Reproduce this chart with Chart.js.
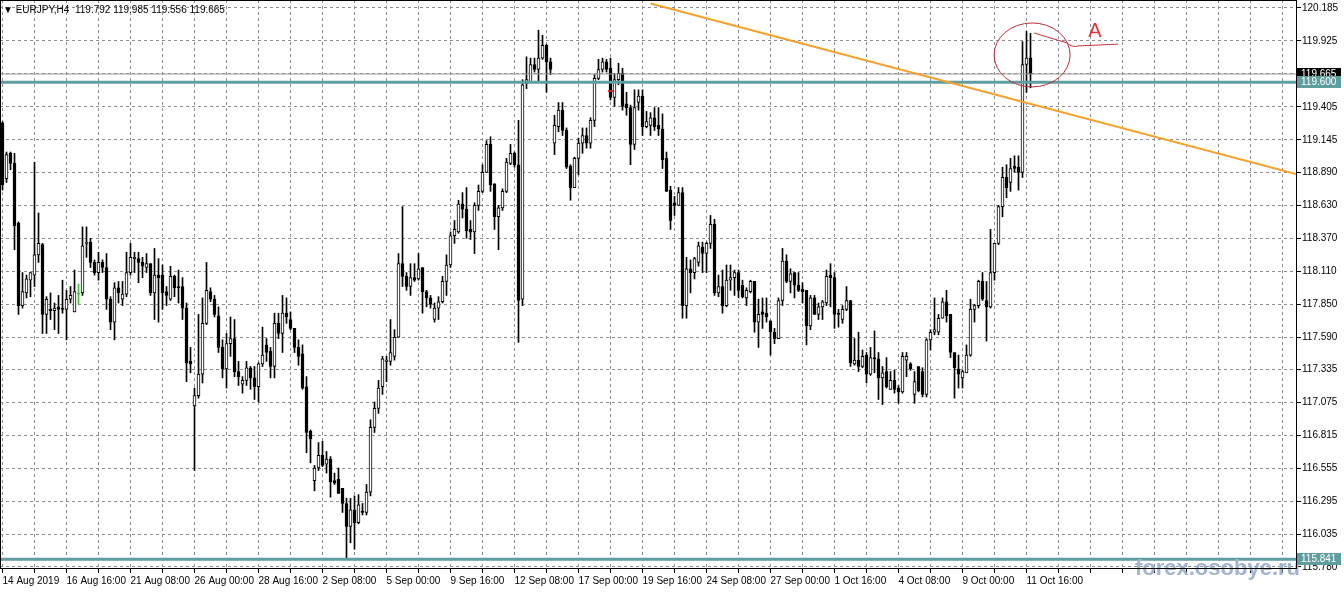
<!DOCTYPE html>
<html>
<head>
<meta charset="utf-8">
<title>EURJPY,H4</title>
<script src="https://cdn.jsdelivr.net/npm/chart.js@4.4.1/dist/chart.umd.min.js"></script>
<style>
  html, body { margin: 0; padding: 0; background: #fff; }
  #chart { display: block; }
</style>
</head>
<body>
<canvas id="chart" width="1344" height="593"></canvas>
<script>
var symbolName = 'EURJPY,H4';

// time axis: one label every 16 H4 bars, grid every 8 bars
var dateLabels = ['14 Aug 2019', '16 Aug 16:00', '21 Aug 08:00', '26 Aug 00:00', '28 Aug 16:00',
    '2 Sep 08:00', '5 Sep 00:00', '9 Sep 16:00', '12 Sep 08:00', '17 Sep 00:00', '19 Sep 16:00',
    '24 Sep 08:00', '27 Sep 00:00', '1 Oct 16:00', '4 Oct 08:00', '9 Oct 00:00', '11 Oct 16:00'];
var labelEvery = 16;
var gridEvery = 8;
var slotCount = 324; // bars plus empty space on the right

var openPrices = [
    119.28,118.84,119.04,118.96,118.49,117.84,117.94,118.04,118.08,118.24,
    118.32,117.77,117.81,117.80,117.83,117.82,117.81,117.89,117.79,117.93,
    117.94,118.33,118.34,118.18,118.10,118.18,118.14,117.89,117.71,117.98,
    117.89,117.93,118.10,118.21,118.21,118.18,118.14,118.17,117.94,118.08,
    118.08,117.95,117.89,118.07,117.99,117.99,117.82,117.40,117.05,117.13,
    117.30,117.70,117.95,117.89,117.76,117.51,117.34,117.54,117.58,117.32,
    117.22,117.25,117.35,117.27,117.20,117.38,117.53,117.48,117.36,117.70,
    117.62,117.78,117.73,117.66,117.51,117.46,117.20,116.85,116.46,116.56,
    116.66,116.59,116.63,116.46,116.47,116.40,116.28,116.10,116.23,116.13,
    116.22,116.21,116.37,116.88,117.03,117.20,117.40,117.40,117.44,117.59,
    118.17,118.07,117.99,118.06,118.05,118.14,117.95,117.90,117.73,117.82,
    117.87,118.03,118.16,118.39,118.42,118.64,118.60,118.44,118.42,118.63,
    118.74,118.89,119.11,118.80,118.54,118.61,118.74,118.96,119.04,118.95,
    117.89,119.59,119.60,119.74,119.70,119.79,119.89,119.76,119.12,119.25,
    119.38,119.22,118.94,118.77,119.00,119.12,119.18,119.12,119.30,119.63,
    119.70,119.76,119.71,119.48,119.62,119.67,119.43,119.40,119.11,119.44,
    119.49,119.25,119.26,119.32,119.26,119.23,119.00,118.75,118.65,118.63,
    118.73,117.84,118.13,118.10,118.18,118.30,118.25,118.33,118.48,117.94,
    117.99,117.84,118.04,118.06,118.10,118.00,117.90,117.95,118.03,117.71,
    117.79,117.78,117.72,117.63,117.58,117.88,118.19,118.03,118.10,118.00,
    117.97,117.96,117.68,117.90,117.77,117.83,117.86,118.08,118.06,117.78,
    117.73,117.81,117.88,117.38,117.41,117.36,117.45,117.30,117.43,117.42,
    117.27,117.32,117.18,117.25,117.19,117.16,117.41,117.38,117.14,117.36,
    117.32,117.14,117.57,117.63,117.63,117.74,117.87,117.77,117.47,117.34,
    117.27,117.31,117.45,117.81,117.84,118.03,117.88,117.83,118.10,118.33,
    118.62,118.85,118.81,118.94,118.93,118.89,119.74,119.792
];
var highPrices = [
    119.29,119.05,119.05,119.04,118.50,118.10,118.08,118.10,118.97,118.57,
    118.33,117.91,117.94,117.86,117.92,118.04,117.96,117.99,118.12,118.01,
    118.46,118.46,118.37,118.20,118.26,118.20,118.25,117.91,118.02,118.03,
    118.03,118.26,118.33,118.26,118.26,118.22,118.25,118.17,118.29,118.21,
    118.16,117.99,118.15,118.08,118.12,118.06,117.86,117.51,117.19,117.77,
    117.90,118.18,117.98,117.92,117.83,117.57,117.62,117.75,117.73,117.40,
    117.28,117.40,117.36,117.36,117.39,117.67,117.58,117.51,117.78,117.78,
    117.92,117.90,117.79,117.66,117.57,117.53,117.28,116.86,116.58,116.76,
    116.77,116.69,116.65,116.52,116.56,116.40,116.32,116.32,116.34,116.35,
    116.28,116.43,116.94,117.08,117.25,117.44,117.44,117.73,117.65,118.25,
    118.62,118.10,118.17,118.17,118.25,118.14,117.96,117.92,117.86,117.91,
    118.07,118.24,118.42,118.51,118.67,118.73,118.77,118.51,118.65,118.79,
    118.95,119.14,119.17,118.80,118.63,118.76,119.00,119.11,119.05,119.30,
    119.62,119.80,119.79,119.79,120.01,119.97,119.90,119.79,119.34,119.44,
    119.44,119.24,118.95,119.01,119.16,119.24,119.24,119.32,119.66,119.78,
    119.79,119.78,119.79,119.67,119.75,119.71,119.52,119.42,119.54,119.54,
    119.54,119.37,119.36,119.40,119.40,119.35,119.05,118.78,118.70,118.77,
    118.77,118.22,118.20,118.22,118.34,118.34,118.34,118.55,118.52,118.08,
    118.12,118.16,118.16,118.12,118.12,118.04,117.98,118.04,118.03,117.89,
    117.90,117.90,117.72,117.66,117.90,118.29,118.24,118.13,118.10,118.10,
    118.02,117.96,117.92,117.92,117.86,117.88,118.12,118.17,118.10,117.81,
    117.84,117.99,117.88,117.58,117.63,117.49,117.47,117.51,117.64,117.47,
    117.36,117.43,117.32,117.33,117.21,117.47,117.47,117.39,117.32,117.36,
    117.35,117.58,117.65,117.90,117.77,117.90,117.96,117.77,117.47,117.45,
    117.33,117.53,117.89,117.85,118.04,118.10,118.03,118.44,118.33,118.63,
    118.93,118.95,119.00,119.02,119.02,119.92,120.00,119.985
];
var lowPrices = [
    118.75,118.81,118.91,118.28,117.77,117.82,117.90,117.91,117.99,118.18,
    117.62,117.62,117.73,117.65,117.62,117.78,117.57,117.86,117.79,117.85,
    117.92,118.22,118.14,118.08,118.04,118.10,117.81,117.65,117.57,117.86,
    117.84,117.91,118.08,118.10,118.02,118.06,118.10,117.92,117.73,117.71,
    117.81,117.84,117.88,117.91,117.86,117.73,117.24,117.31,116.54,117.11,
    117.23,117.69,117.87,117.75,117.47,117.27,117.19,117.44,117.28,117.21,
    117.15,117.21,117.18,117.10,117.08,117.36,117.40,117.27,117.27,117.58,
    117.47,117.70,117.65,117.47,117.37,117.18,116.68,116.60,116.38,116.54,
    116.57,116.52,116.33,116.43,116.36,116.21,115.85,115.97,115.92,116.12,
    116.19,116.19,116.34,116.84,116.99,117.14,117.24,117.37,117.41,117.59,
    117.99,117.96,117.92,118.03,118.04,117.78,117.83,117.82,117.71,117.73,
    117.86,117.92,118.14,118.33,118.41,118.53,118.37,118.36,118.25,118.59,
    118.73,118.89,118.74,118.44,118.28,118.59,118.73,118.95,118.93,117.55,
    117.84,119.55,119.60,119.68,119.60,119.78,119.52,119.66,119.03,119.21,
    119.18,118.92,118.67,118.77,118.87,119.04,119.08,119.08,119.25,119.62,
    119.68,119.68,119.46,119.41,119.58,119.38,119.34,118.95,119.07,119.38,
    119.18,119.24,119.18,119.22,119.18,118.92,118.74,118.44,118.55,118.63,
    117.74,117.74,117.94,118.05,118.15,118.10,118.10,118.29,117.92,117.91,
    117.78,117.83,117.96,117.92,117.90,117.90,117.84,117.94,117.63,117.51,
    117.66,117.71,117.45,117.54,117.58,117.84,118.02,117.94,117.90,117.95,
    117.86,117.53,117.65,117.77,117.73,117.73,117.84,117.83,117.66,117.67,
    117.70,117.80,117.36,117.37,117.32,117.35,117.23,117.29,117.31,117.10,
    117.06,117.19,117.18,117.15,117.07,117.15,117.28,117.33,117.07,117.16,
    117.12,117.12,117.49,117.61,117.61,117.74,117.71,117.43,117.11,117.19,
    117.19,117.31,117.44,117.71,117.82,117.88,117.56,117.82,118.04,118.32,
    118.54,118.69,118.74,118.89,118.75,118.85,119.52,119.556
];
var closePrices = [
    118.79,119.03,118.96,118.47,117.84,117.95,118.05,118.10,118.24,118.33,
    117.77,117.89,117.80,117.82,117.81,117.81,117.89,117.92,117.95,117.93,
    118.31,118.34,118.18,118.10,118.18,118.14,117.89,117.71,117.98,117.94,
    117.93,118.10,118.22,118.22,118.18,118.15,118.17,117.94,118.08,118.06,
    117.94,117.92,118.07,117.98,117.98,117.82,117.39,117.38,117.13,117.30,
    117.70,117.96,117.89,117.77,117.51,117.34,117.54,117.58,117.32,117.28,
    117.25,117.35,117.27,117.20,117.38,117.45,117.47,117.36,117.70,117.62,
    117.78,117.75,117.66,117.51,117.44,117.19,116.84,116.79,116.56,116.66,
    116.58,116.63,116.45,116.44,116.36,116.28,116.10,116.23,116.13,116.27,
    116.21,116.37,116.88,117.03,117.19,117.42,117.41,117.47,117.59,118.17,
    118.07,117.99,118.06,118.04,118.13,117.95,117.90,117.85,117.82,117.87,
    118.03,118.16,118.39,118.44,118.64,118.60,118.43,118.42,118.63,118.74,
    118.89,119.11,118.79,118.54,118.61,118.74,118.97,119.04,118.95,117.88,
    119.58,119.62,119.74,119.70,119.79,119.89,119.76,119.70,119.26,119.38,
    119.22,118.93,118.77,119.00,119.12,119.18,119.12,119.30,119.63,119.70,
    119.76,119.70,119.48,119.62,119.67,119.41,119.40,119.11,119.40,119.49,
    119.25,119.29,119.32,119.25,119.23,118.99,118.74,118.51,118.63,118.73,
    117.84,118.13,118.10,118.21,118.31,118.25,118.33,118.48,117.94,117.99,
    117.84,118.04,118.06,118.10,117.96,117.91,117.96,118.03,117.71,117.77,
    117.77,117.75,117.63,117.58,117.88,118.19,118.03,118.09,118.00,117.96,
    117.95,117.68,117.90,117.77,117.83,117.87,118.07,118.06,117.77,117.77,
    117.81,117.88,117.39,117.41,117.36,117.44,117.30,117.43,117.42,117.27,
    117.31,117.20,117.25,117.18,117.16,117.44,117.44,117.34,117.24,117.17,
    117.14,117.57,117.63,117.65,117.74,117.87,117.76,117.47,117.35,117.30,
    117.32,117.45,117.81,117.84,118.03,117.89,117.83,118.10,118.33,118.62,
    118.85,118.77,118.92,118.92,118.89,119.74,119.79,119.665
];

// price scale labels as the terminal prints them
var priceTicks = [120.185, 119.925, 119.665, 119.405, 119.145, 118.890, 118.630, 118.370,
    118.110, 117.850, 117.590, 117.335, 117.075, 116.815, 116.555, 116.295, 116.035, 115.780];
var priceMin = 115.764;
var priceMax = 120.248;

// horizontal levels and the trend line
var upperLevel = 119.600;
var lowerLevel = 115.841;
var trendStart = {x: 162, y: 120.22};
var trendEnd = {x: 323.625, y: 118.875};

var dojiColor = '#3ec43e';
var levelColor = '#5f9ea0';
var fontFamily = '"Liberation Sans", Arial, sans-serif';
var xMin = -0.625;
var xMax = slotCount - 0.375;

var last = openPrices.length - 1;
var bidPrice = closePrices[last];

function isDoji(i) { return openPrices[i] === closePrices[i]; }

var wickData = openPrices.map(function(o, i) {
    return {x: i, y: [lowPrices[i], highPrices[i]]};
});
var bodyData = openPrices.map(function(o, i) {
    return {x: i, y: [Math.min(o, closePrices[i]), Math.max(o, closePrices[i])]};
});

function flatLine(value) {
    return [{x: xMin, y: value}, {x: xMax, y: value}];
}

var chartExtras = {
    id: 'chartExtras',
    beforeDraw: function(chart) {
        var c = chart.ctx;
        c.save();
        c.fillStyle = '#fff';
        c.fillRect(0, 0, chart.width, chart.height);
        c.restore();
    },
    afterDraw: function(chart) {
        var c = chart.ctx;
        var area = chart.chartArea;
        var xs = chart.scales.x;
        var ys = chart.scales.y;
        c.save();

        // watermark
        c.font = 'bold 22px ' + fontFamily;
        c.fillStyle = '#a3b4cf';
        c.textAlign = 'right';
        c.textBaseline = 'alphabetic';
        c.fillText('forex.osobye.ru', 1300, 575);

        // frame
        c.strokeStyle = '#000';
        c.lineWidth = 1;
        c.strokeRect(area.left + 0.5, area.top + 0.5, area.right - area.left - 1, area.bottom - area.top - 1);

        // symbol line top left
        c.font = '10px ' + fontFamily;
        c.fillStyle = '#000';
        c.textAlign = 'left';
        c.textBaseline = 'middle';
        var ohlc = [openPrices[last], highPrices[last], lowPrices[last], closePrices[last]].map(function(v) {
            return v.toFixed(3);
        });
        c.fillText('\u25BC ' + symbolName + '  ' + ohlc.join(' '), 3, 10);

        // hand drawn marks near the last bars
        c.strokeStyle = '#b8303c';
        c.lineWidth = 1;
        c.beginPath();
        c.ellipse(xs.getPixelForValue(257.4), ys.getPixelForValue(119.815), 38, 32, 0, 0, Math.PI * 2);
        c.stroke();
        c.strokeStyle = '#c8323c';
        c.beginPath();
        c.moveTo(xs.getPixelForValue(257.9), ys.getPixelForValue(119.988));
        c.lineTo(xs.getPixelForValue(266.1), ys.getPixelForValue(119.91));
        c.quadraticCurveTo(xs.getPixelForValue(267.5), ys.getPixelForValue(119.87),
            xs.getPixelForValue(268.9), ys.getPixelForValue(119.886));
        c.lineTo(xs.getPixelForValue(278.9), ys.getPixelForValue(119.90));
        c.stroke();
        c.font = '20px ' + fontFamily;
        c.fillStyle = '#e0363c';
        c.textAlign = 'center';
        c.textBaseline = 'alphabetic';
        c.fillText('A', xs.getPixelForValue(273.1), ys.getPixelForValue(119.956));
        c.strokeStyle = '#d42020';
        c.lineWidth = 2;
        c.beginPath();
        c.moveTo(xs.getPixelForValue(151.4), ys.getPixelForValue(119.53));
        c.lineTo(xs.getPixelForValue(152.9), ys.getPixelForValue(119.53));
        c.stroke();

        // price tags on the right scale
        function priceTag(value, bg) {
            var y = Math.round(ys.getPixelForValue(value));
            c.fillStyle = bg;
            c.fillRect(area.right, y - 6, 44, 12);
            c.fillStyle = '#fff';
            c.font = '10px ' + fontFamily;
            c.textAlign = 'left';
            c.textBaseline = 'middle';
            c.fillText(value.toFixed(3), area.right + 4, y);
        }
        priceTag(bidPrice, '#000');
        priceTag(upperLevel, levelColor);
        priceTag(lowerLevel, levelColor);
        c.restore();
    }
};

Chart.defaults.font.family = fontFamily;
Chart.defaults.font.size = 10;
Chart.defaults.color = '#000';

var ctx = document.getElementById('chart').getContext('2d');
var priceChart = new Chart(ctx, {
    type: 'bar',
    data: {
        datasets: [
            {
                label: 'wicks',
                data: wickData,
                order: 3,
                grouped: false,
                barThickness: 1,
                borderWidth: 0,
                minBarLength: 1,
                backgroundColor: function(c) { return isDoji(c.dataIndex) ? dojiColor : '#000'; }
            },
            {
                label: 'bodies',
                data: bodyData,
                order: 2,
                grouped: false,
                barThickness: 3,
                borderWidth: 1,
                borderSkipped: false,
                minBarLength: 1,
                borderColor: function(c) { return isDoji(c.dataIndex) ? dojiColor : '#000'; },
                backgroundColor: function(c) {
                    var i = c.dataIndex;
                    if (isDoji(i)) return dojiColor;
                    return closePrices[i] > openPrices[i] ? '#fff' : '#000';
                }
            },
            {
                type: 'line',
                label: 'bid',
                data: flatLine(bidPrice),
                order: 1,
                borderColor: '#9a9a9a',
                borderWidth: 1,
                pointRadius: 0
            },
            {
                type: 'line',
                label: 'level 119.600',
                data: flatLine(upperLevel),
                order: 1,
                borderColor: levelColor,
                borderWidth: 3,
                pointRadius: 0
            },
            {
                type: 'line',
                label: 'level 115.841',
                data: flatLine(lowerLevel),
                order: 1,
                borderColor: levelColor,
                borderWidth: 3,
                pointRadius: 0
            },
            {
                type: 'line',
                label: 'trend',
                data: [trendStart, trendEnd],
                order: 0,
                borderColor: '#f5a12c',
                borderWidth: 2,
                pointRadius: 0
            }
        ]
    },
    options: {
        responsive: false,
        animation: false,
        devicePixelRatio: 1,
        events: [],
        layout: { padding: 0, autoPadding: false },
        plugins: {
            legend: { display: false },
            tooltip: { enabled: false }
        },
        scales: {
            x: {
                type: 'linear',
                min: xMin,
                max: xMax,
                offset: false,
                afterFit: function(scale) {
                    scale.height = 24;
                    scale.paddingLeft = 0;
                    scale.paddingRight = 0;
                },
                afterBuildTicks: function(scale) {
                    var t = [];
                    for (var v = 0; v < slotCount - 1; v += gridEvery) t.push({value: v});
                    scale.ticks = t;
                },
                grid: {
                    offset: false,
                    color: '#8a8e93',
                    tickColor: '#000',
                    tickLength: 4
                },
                border: { display: false, dash: [3, 3] },
                ticks: {
                    autoSkip: false,
                    maxRotation: 0,
                    minRotation: 0,
                    align: 'start',
                    padding: 2,
                    callback: function(value) {
                        if (value % labelEvery === 0 && dateLabels[value / labelEvery]) {
                            return dateLabels[value / labelEvery];
                        }
                        return '';
                    }
                }
            },
            y: {
                position: 'right',
                min: priceMin,
                max: priceMax,
                afterFit: function(scale) {
                    scale.width = 47;
                    scale.paddingTop = 0;
                    scale.paddingBottom = 0;
                },
                afterBuildTicks: function(scale) {
                    scale.ticks = priceTicks.map(function(v) { return {value: v}; });
                },
                grid: {
                    color: '#8a8e93',
                    tickColor: '#000',
                    tickLength: 4
                },
                border: { display: false, dash: [3, 3] },
                ticks: {
                    padding: 1,
                    callback: function(value) { return value.toFixed(3); }
                }
            }
        }
    },
    plugins: [chartExtras]
});
</script>
</body>
</html>
